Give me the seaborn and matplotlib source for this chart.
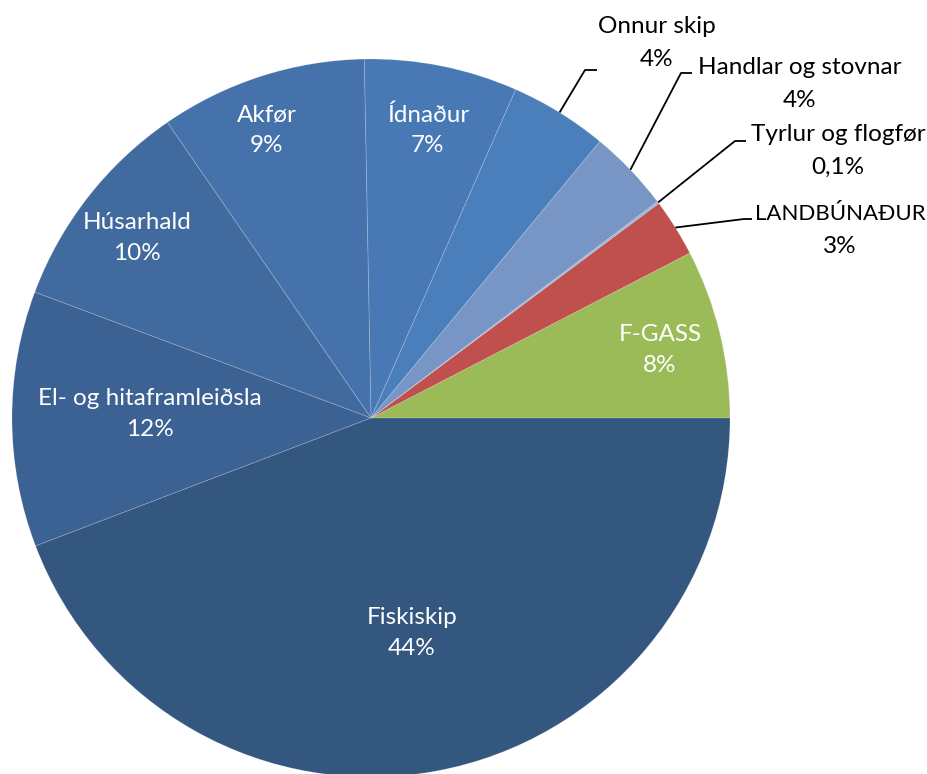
import matplotlib
matplotlib.use("Agg")
import matplotlib.pyplot as plt
import seaborn as sns
import numpy as np

# ---- data (counter-clockwise from 3 o'clock) ----
categories = ["F-GASS", "LANDBÚNAÐUR", "Tyrlur og flogfør", "Handlar og stovnar",
              "Onnur skip", "Ídnaður", "Akfør", "Húsarhald",
              "El- og hitaframleiðsla", "Fiskiskip"]
values = [7.6, 2.6, 0.1, 3.7, 4.4, 6.9, 9.3, 9.7, 11.5, 44.2]
pct_labels = ["8%", "3%", "0,1%", "4%", "4%", "7%", "9%", "10%", "12%", "44%"]
colors = ["#9BBB59", "#C0504D", "#95B3D7", "#7796C6", "#4B7FBC",
          "#4879B5", "#4572AB", "#416A9F", "#3C6193", "#34577F"]

sns.set_theme(style="white")
plt.rcParams['font.family'] = ['Lato', 'DejaVu Sans']

W, H = 928, 774
CX, CY, R = 371, 418, 359

fig = plt.figure(figsize=(W / 100, H / 100), dpi=100)
ax = fig.add_axes([0, 0, 1, 1])

def px(x, y):
    return ((x - CX) / R, (CY - y) / R)

wedges, _ = ax.pie(values, colors=colors, startangle=0, counterclock=True,
                   radius=1, center=(0, 0), frame=True,
                   wedgeprops=dict(edgecolor=(1, 1, 1, 0.2), linewidth=0.6))
ax.set_xlim(-CX / R, (W - CX) / R)
ax.set_ylim(-(H - CY) / R, CY / R)
ax.set_aspect('equal')
ax.axis('off')

fs = 17.5
ls = 1.55
HALF = 16.5  # half the pixel gap between the two label lines

# inside labels: text centre in pixels
inside = {0: (660, 350), 5: (428, 130), 6: (267, 130), 7: (137, 238),
          8: (150, 414), 9: (412, 633)}
for i, c in inside.items():
    tx, ty = px(*c)
    ax.text(tx, ty, f"{categories[i]}\n{pct_labels[i]}",
            ha='center', va='center', color='white', fontsize=fs, linespacing=ls)

# outside labels with leader lines: (elbow px, line end px, text center px, font size)
outside = {
    4: ((585, 70), (597, 70), (657, 41), fs),
    3: ((681, 73), (692, 73), (800, 82), fs),
    2: ((735, 141), (746, 141), (838, 149), fs),
    1: ((744, 219), (752, 219), (840, 228), 16.0),
}
for i, (elb, end, tc, f) in outside.items():
    w = wedges[i]
    mid = np.deg2rad((w.theta1 + w.theta2) / 2)
    sx, sy = np.cos(mid), np.sin(mid)
    ex, ey = px(*elb)
    fx, fy = px(*end)
    ax.plot([sx, ex, fx], [sy, ey, fy], color='black', lw=1.3, solid_capstyle='butt')
    t1x, t1y = px(tc[0], tc[1] - HALF)
    t2x, t2y = px(tc[0], tc[1] + HALF)
    ax.text(t1x, t1y, categories[i], ha='center', va='center_baseline',
            color='black', fontsize=f)
    ax.text(t2x, t2y, pct_labels[i], ha='center', va='center_baseline',
            color='black', fontsize=fs)

fig.savefig("out.png", dpi=100)
